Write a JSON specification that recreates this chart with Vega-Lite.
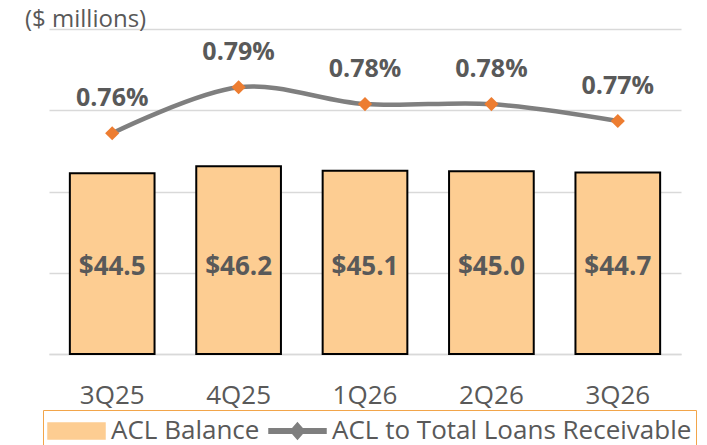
{
  "$schema": "https://vega.github.io/schema/vega-lite/v6.json",
  "width": 632,
  "height": 325,
  "padding": {"left": 25, "top": 8, "right": 26, "bottom": 0},
  "title": {"text": "($ millions)", "anchor": "start", "frame": "group", "dx": -24, "fontSize": 24, "fontWeight": "normal", "color": "#595959", "font": "Open Sans", "offset": -3},
  "config": {
    "font": "Open Sans",
    "view": {"stroke": null},
    "axis": {"gridColor": "#D9D9D9", "gridWidth": 1.5},
    "legend": {"labelLimit": 500}
  },
  "data": {
    "values": [
      {"quarter": "3Q25", "acl": 44.5, "pct": 0.0076},
      {"quarter": "4Q25", "acl": 46.2, "pct": 0.0079},
      {"quarter": "1Q26", "acl": 45.1, "pct": 0.00779},
      {"quarter": "2Q26", "acl": 45.0, "pct": 0.00779},
      {"quarter": "3Q26", "acl": 44.7, "pct": 0.00768}
    ]
  },
  "encoding": {
    "x": {
      "field": "quarter", "type": "nominal", "sort": null,
      "scale": {"paddingInner": 0.33, "paddingOuter": 0.165},
      "axis": {"title": null, "labelAngle": 0, "ticks": false, "domainColor": "#D9D9D9", "domainWidth": 1.5, "labelPadding": 28, "labelFontSize": 26, "labelColor": "#595959", "grid": false}
    }
  },
  "layer": [
    {
      "layer": [
        {
          "mark": {"type": "bar", "stroke": "#000000", "strokeWidth": 2},
          "encoding": {
            "y": {"field": "acl", "type": "quantitative", "scale": {"domain": [0, 80]}, "axis": {"title": null, "labels": false, "ticks": false, "domain": false, "values": [0, 20, 40, 60, 80], "grid": true}},
            "color": {
              "datum": "ACL Balance",
              "scale": {"domain": ["ACL Balance", "ACL to Total Loans Receivable"], "range": ["#FDCD92", "#7F7F7F"]},
              "legend": {
                "orient": "none", "legendX": -6, "legendY": 381, "direction": "horizontal", "title": null,
                "padding": 4, "strokeColor": "#F2A54A",
                "labelFontSize": 26, "labelColor": "#595959", "labelOffset": 30, "columnPadding": 6,
                "symbolSize": 1024, "labelLimit": 500,
                "symbolType": {"expr": "datum.value === 'ACL Balance' ? 'M-1,-0.5H2.5625V0.5H-1Z' : 'M-1,-0.14H2.5625V0.14H-1Z M0.78,-0.5L1.22,0L0.78,0.5L0.34,0Z'"},
                "encode": {
                  "legend": {"strokeWidth": {"value": 1.5}},
                  "symbols": {
                    "shape": {"value": {"expr": "datum.value === 'ACL Balance' ? 'M-1,-0.5H2.5625V0.5H-1Z' : 'M-1,-0.14H2.5625V0.14H-1Z M0.78,-0.5L1.22,0L0.78,0.5L0.34,0Z'"}},
                    "fill": {"value": {"expr": "datum.value === 'ACL Balance' ? '#FDCD92' : '#7F7F7F'"}},
                    "stroke": {"value": {"expr": "datum.value === 'ACL Balance' ? '#000000' : 'transparent'"}},
                    "strokeWidth": {"value": {"expr": "datum.value === 'ACL Balance' ? 2 : 0"}},
                    "opacity": {"value": 1},
                    "fillOpacity": {"value": 1}
                  }
                }
              }
            }
          }
        },
        {
          "mark": {"type": "text", "fontSize": 26, "fontWeight": "bold", "color": "#595959"},
          "encoding": {
            "y": {"datum": 21.5, "type": "quantitative"},
            "text": {"field": "acl", "type": "quantitative", "format": "$.1f"}
          }
        }
      ]
    },
    {
      "layer": [
        {
          "mark": {"type": "line", "interpolate": "cardinal", "strokeWidth": 4.5},
          "encoding": {
            "y": {"field": "pct", "type": "quantitative", "scale": {"domain": [0.00616, 0.00828]}, "axis": null},
            "color": {"datum": "ACL to Total Loans Receivable"}
          }
        },
        {
          "mark": {"type": "point", "shape": "diamond", "filled": true, "color": "#ED7D31", "size": 200, "opacity": 1},
          "encoding": {
            "y": {"field": "pct", "type": "quantitative", "scale": {"domain": [0.00616, 0.00828]}, "axis": null}
          }
        },
        {
          "mark": {"type": "text", "fontSize": 25, "fontWeight": "bold", "color": "#595959", "dy": -35},
          "encoding": {
            "y": {"field": "pct", "type": "quantitative", "scale": {"domain": [0.00616, 0.00828]}, "axis": null},
            "text": {"field": "pct", "type": "quantitative", "format": ".2%"}
          }
        }
      ]
    }
  ],
  "resolve": {"scale": {"y": "independent"}}
}
